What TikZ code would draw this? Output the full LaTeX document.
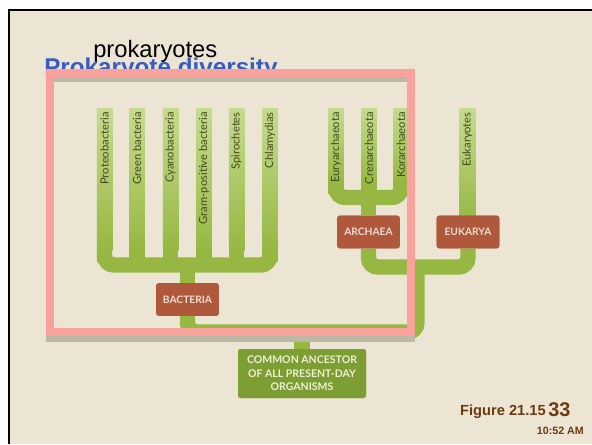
\documentclass[tikz,border=0pt]{standalone}
\usepackage{fontspec}
\setmainfont{Liberation Sans}
\newfontfamily\lato{Lato}
\definecolor{slidebg}{HTML}{ECE5D3}
\definecolor{pinkc}{HTML}{F8A29B}
\definecolor{shadowc}{HTML}{BDB8A6}
\definecolor{titleblue}{HTML}{3A5BBF}
\definecolor{lg}{HTML}{C6DB8E}
\definecolor{mg}{HTML}{96B842}
\definecolor{boxbrown}{HTML}{B0583B}
\definecolor{boxtext}{HTML}{F4DCCE}
\definecolor{ancgreen}{HTML}{7D9E32}
\definecolor{anctext}{HTML}{EEF0D6}
\definecolor{leaftext}{HTML}{414B1F}
\definecolor{figbrown}{HTML}{6B3A10}
\tikzset{
  leaf/.style={rotate=90, anchor=east, inner sep=0pt, text=leaftext,
    font=\lato\fontsize{8.4}{10}\selectfont},
  branch/.style={line width=11.6pt, draw=mg, rounded corners=7pt},
  groupbox/.style={fill=boxbrown, text=boxtext, rounded corners=2pt, inner sep=0pt,
    font=\lato\bfseries\fontsize{7.7}{9}\selectfont, minimum width=47pt, minimum height=24.5pt},
  ancbox/.style={fill=ancgreen, text=anctext, rounded corners=2pt, inner sep=0pt, align=center,
    font=\lato\bfseries\fontsize{7.9}{10.2}\selectfont, minimum width=96pt, minimum height=36.75pt},
  figtext/.style={text=figbrown, inner sep=0pt, font=\bfseries}
}
\begin{document}
\begin{tikzpicture}[x=0.75pt,y=-0.75pt]
\useasboundingbox (0,0) rectangle (592,444);
\fill[white] (0,0) rectangle (592,444);
\fill[slidebg] (9,10) rectangle (592,444);
\draw[line width=1.5pt] (9,444) -- (9,10) -- (592,10);

% leaf bars
\foreach \cx in {104.5,137,170.5,204,236.5,270}{
  \shade[top color=lg, bottom color=mg] ({\cx-7.75},108) rectangle ({\cx+7.75},250);
  \fill[mg] ({\cx-7.75},249) rectangle ({\cx+7.75},262);
}
\foreach \cx in {336,369,401}{
  \shade[top color=lg, bottom color=mg] ({\cx-7.75},108) rectangle ({\cx+7.75},182);
  \fill[mg] ({\cx-7.75},181) rectangle ({\cx+7.75},194);
}
\shade[top color=lg, bottom color=mg] (459.5,108) rectangle (475.5,222);

% junctions
\coordinate (bj) at (187.5,265);
\coordinate (aj) at (368.5,197.5);
\coordinate (ae) at (417,267);
\coordinate (root) at (302,332);

% group boxes (positions)
\node[groupbox] (bacteria) at (187.5,299.5) {BACTERIA};
\node[groupbox] (archaea) at (368.5,232) {ARCHAEA};
\node[groupbox] (eukarya) at (468,232) {EUKARYA};
\node[ancbox] (ancestor) at (302,373.5) {COMMON ANCESTOR\\OF ALL PRESENT-DAY\\ORGANISMS};

% branches
\draw[branch] (104.5,248) |- (bj) -| (270,248);
\draw[branch] (bj) -- (bacteria.north);
\draw[branch] (336,180) |- (aj) -| (401,180);
\draw[branch] (aj) -- (archaea.north);
\draw[branch] (archaea.south) |- (ae) -| (eukarya.south);
\draw[branch] (bacteria.south) |- (root) -| (ae);
\draw[branch] (root) -- (ancestor.north);

% boxes on top of branches
\node[groupbox] at (bacteria) {BACTERIA};
\node[groupbox] at (archaea) {ARCHAEA};
\node[groupbox] at (eukarya) {EUKARYA};
\node[ancbox] at (ancestor) {COMMON ANCESTOR\\OF ALL PRESENT-DAY\\ORGANISMS};

% leaf labels
\node[leaf] (proteo) at (104.5,112) {Proteobacteria};
\node[leaf] (greenb) at (137,112) {Green bacteria};
\node[leaf] (cyano) at (170.5,112) {Cyanobacteria};
\node[leaf] (gram) at (204,112) {Gram-positive bacteria};
\node[leaf] (spiro) at (236.5,112) {Spirochetes};
\node[leaf] (chlam) at (270,112) {Chlamydias};
\node[leaf] (eury) at (336,112) {Euryarchaeota};
\node[leaf] (cren) at (369,112) {Crenarchaeota};
\node[leaf] (kor) at (401,112) {Korarchaeota};
\node[leaf] (euk) at (467.5,112) {Eukaryotes};

% titles
\node[anchor=base west, inner sep=0pt, text=titleblue,
  font=\bfseries\fontsize{18.2}{20}\selectfont] (title) at (44,75) {Prokaryote diversity};
\node[anchor=base west, inner sep=0pt, font=\fontsize{17.8}{20}\selectfont] (sub) at (93,57) {prokaryotes};

% highlight rectangle with shadow
\fill[shadowc] (46,336) rectangle (415,342);
\fill[shadowc] (54,77) rectangle (407,82);
\draw[pinkc, line width=6pt] (50,73) rectangle (411,332);

% footer
\node[figtext, anchor=base east, font=\bfseries\fontsize{11}{13}\selectfont] (fig) at (546,415) {Figure 21.15};
\node[figtext, anchor=base west, font=\bfseries\fontsize{14.9}{16}\selectfont] (num) at (548,416) {33};
\node[figtext, anchor=base east, font=\bfseries\fontsize{8}{10}\selectfont] (time) at (584,434) {10:52 AM};
\end{tikzpicture}
\end{document}
